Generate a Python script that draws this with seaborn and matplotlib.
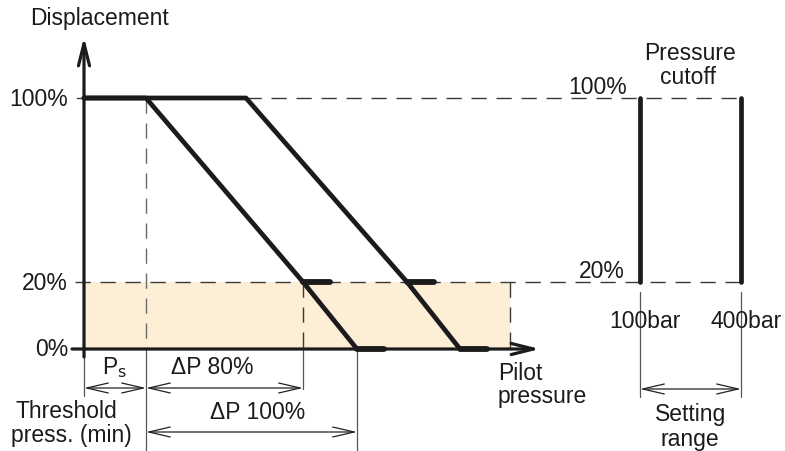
import numpy as np
import pandas as pd
import matplotlib
matplotlib.use("Agg")
import matplotlib.pyplot as plt
from matplotlib.patches import FancyArrowPatch, ArrowStyle
import seaborn as sns

sns.set_theme(style="white")
plt.rcParams["font.family"] = ["Liberation Sans", "DejaVu Sans"]

# ---- schematic data (pilot pressure in arbitrary units, displacement in %) ----
displacement = [100, 100, 20, 0]
curve_min_p = [0, 62, 219, 273]      # lowest threshold setting
curve_max_p = [0, 162, 323, 376]     # highest threshold setting
stub_len = 27                        # tolerance bars at 20 % and 0 %
threshold_p = 62                     # Ps
band_end_p = 426                     # end of the 0-20 % control band
axis_end_p = 456
level_labels = ["100%", "20%", "0%"]
level_values = [100, 20, 0]
cutoff_p = [556, 657]
cutoff_labels = ["100bar", "400bar"]
cutoff_range = [20, 100]

INK = "#1b1b1b"
THIN = "#3a3a3a"
BAND = "#FDEED6"


# displacement axis: 0-20 % is stretched relative to 20-100 %
def _fwd(y):
    y = np.asarray(y, dtype=float)
    return np.where(y < 20, y * 67 / 20, 67 + (y - 20) * 184 / 80)


def _inv(v):
    v = np.asarray(v, dtype=float)
    return np.where(v < 67, v * 20 / 67, 20 + (v - 67) * 80 / 184)


fig = plt.figure(figsize=(7.85, 4.52), dpi=100)
ax = fig.add_axes([0, 0, 1, 1])
ax.set_yscale("function", functions=(_fwd, _inv))
ax.set_xlim(-84, 701)
ax.set_ylim(float(_inv(-102)), float(_inv(350)))
ax.axis("off")


def below(px):
    """Displacement value that sits px pixels under the 0 % line."""
    return float(_inv(-px))


def above(px):
    return float(_inv(px))


FS = 16.5
txt = dict(fontsize=FS, color=INK, va="center")

# control band
ax.fill_between([0, band_end_p], 0, 20, color=BAND, lw=0, zorder=0)

# characteristic curves
df = pd.DataFrame({
    "p": curve_min_p + curve_max_p,
    "disp": displacement * 2,
    "curve": ["min"] * 4 + ["max"] * 4,
})
sns.lineplot(data=df, x="p", y="disp", units="curve", estimator=None, sort=False,
             color=INK, lw=3.4, ax=ax, legend=False, zorder=4)

# tolerance stubs at 20 % and 0 %
for curve in (curve_min_p, curve_max_p):
    for p, d in zip(curve[2:], displacement[2:]):
        ax.plot([p, p + stub_len], [d, d], color=INK, lw=4.2,
                solid_capstyle="round", zorder=4)

# dashed reference lines
dash = dict(color=THIN, lw=1.0, dashes=(11, 7), zorder=2)
ax.plot([curve_max_p[1], cutoff_p[1]], [100, 100], **dash)
ax.plot([-9, cutoff_p[1]], [20, 20], **dash)
ax.plot([threshold_p, threshold_p], [100, 0], **{**dash, "color": "#6a6a6a"})
ax.plot([curve_min_p[2], curve_min_p[2]], [20, 0], **dash)
ax.plot([band_end_p, band_end_p], [20, 0], **dash)

# tick at 100 %
ax.plot([-7, 0], [100, 100], color=THIN, lw=1.0)

# axes with open arrow heads
head = ArrowStyle("->", head_length=16, head_width=4)
ax.add_patch(FancyArrowPatch((0, below(8)), (0, above(312)), arrowstyle=head,
                             mutation_scale=1, lw=2.3, color=INK,
                             shrinkA=0, shrinkB=0, zorder=5))
ax.add_patch(FancyArrowPatch((-12, 0), (axis_end_p, 0), arrowstyle=head,
                             mutation_scale=1, lw=2.3, color=INK,
                             shrinkA=0, shrinkB=0, zorder=5))

for lab, v in zip(level_labels, level_values):
    ax.text(-16, v, lab, ha="right", **txt)

ax.text(-54, above(332), "Displacement", ha="left", **txt)
ax.text(414, below(24), "Pilot", ha="left", **txt)
ax.text(414, below(47), "pressure", ha="left", **txt)

# dimension lines under the pilot-pressure axis
thin = dict(color="#555555", lw=0.9, zorder=3)
ax.plot([0, 0], [0, below(47)], **thin)
ax.plot([threshold_p, threshold_p], [0, below(102)], **thin)
ax.plot([curve_min_p[2], curve_min_p[2]], [0, below(40)], **thin)
ax.plot([curve_min_p[3], curve_min_p[3]], [0, below(102)], **thin)

dim = ArrowStyle("<->", head_length=15.5, head_width=3.6)
row1, row2 = below(39), below(83)


def dimension(x0, x1, y, heads=dim):
    ax.add_patch(FancyArrowPatch((x0, y), (x1, y), arrowstyle=heads,
                                 mutation_scale=1, lw=0.9, color="#222222",
                                 shrinkA=0, shrinkB=0, zorder=3))


dimension(0, threshold_p, row1)
dimension(threshold_p, curve_min_p[2], row1)
dimension(threshold_p, curve_min_p[3], row2)

ax.text(threshold_p / 2, below(18), r"P$_\mathrm{s}$", ha="center", **txt)
ax.text((threshold_p + curve_min_p[2]) / 2 - 12, below(18), "ΔP 80%", ha="center", **txt)
ax.text((threshold_p + curve_min_p[3]) / 2 + 6, below(63), "ΔP 100%", ha="center", **txt)
ax.text(-18, below(62), "Threshold", ha="center", **txt)
ax.text(-13, below(86), "press. (min)", ha="center", **txt)

# pressure cutoff settings
for p in cutoff_p:
    ax.plot([p, p], cutoff_range, color=INK, lw=3.4, solid_capstyle="round", zorder=4)
    ax.plot([p, p], [below(-57), below(48)], **thin)
for p, lab in zip(cutoff_p, cutoff_labels):
    ax.text(p + 5, below(-28), lab, ha="center", **txt)

ax.text(cutoff_p[0] - 13, 100, "100%", ha="right", va="bottom", fontsize=FS, color=INK)
ax.text(cutoff_p[0] - 15, 20, "20%", ha="right", va="bottom", fontsize=FS, color=INK)
ax.text(606, above(296), "Pressure", ha="center", **txt)
ax.text(604, above(272), "cutoff", ha="center", **txt)

dimension(cutoff_p[0], cutoff_p[1], below(40))
ax.text(607, below(65), "Setting", ha="center", **txt)
ax.text(606, below(90), "range", ha="center", **txt)

fig.savefig("out.png", dpi=100)
